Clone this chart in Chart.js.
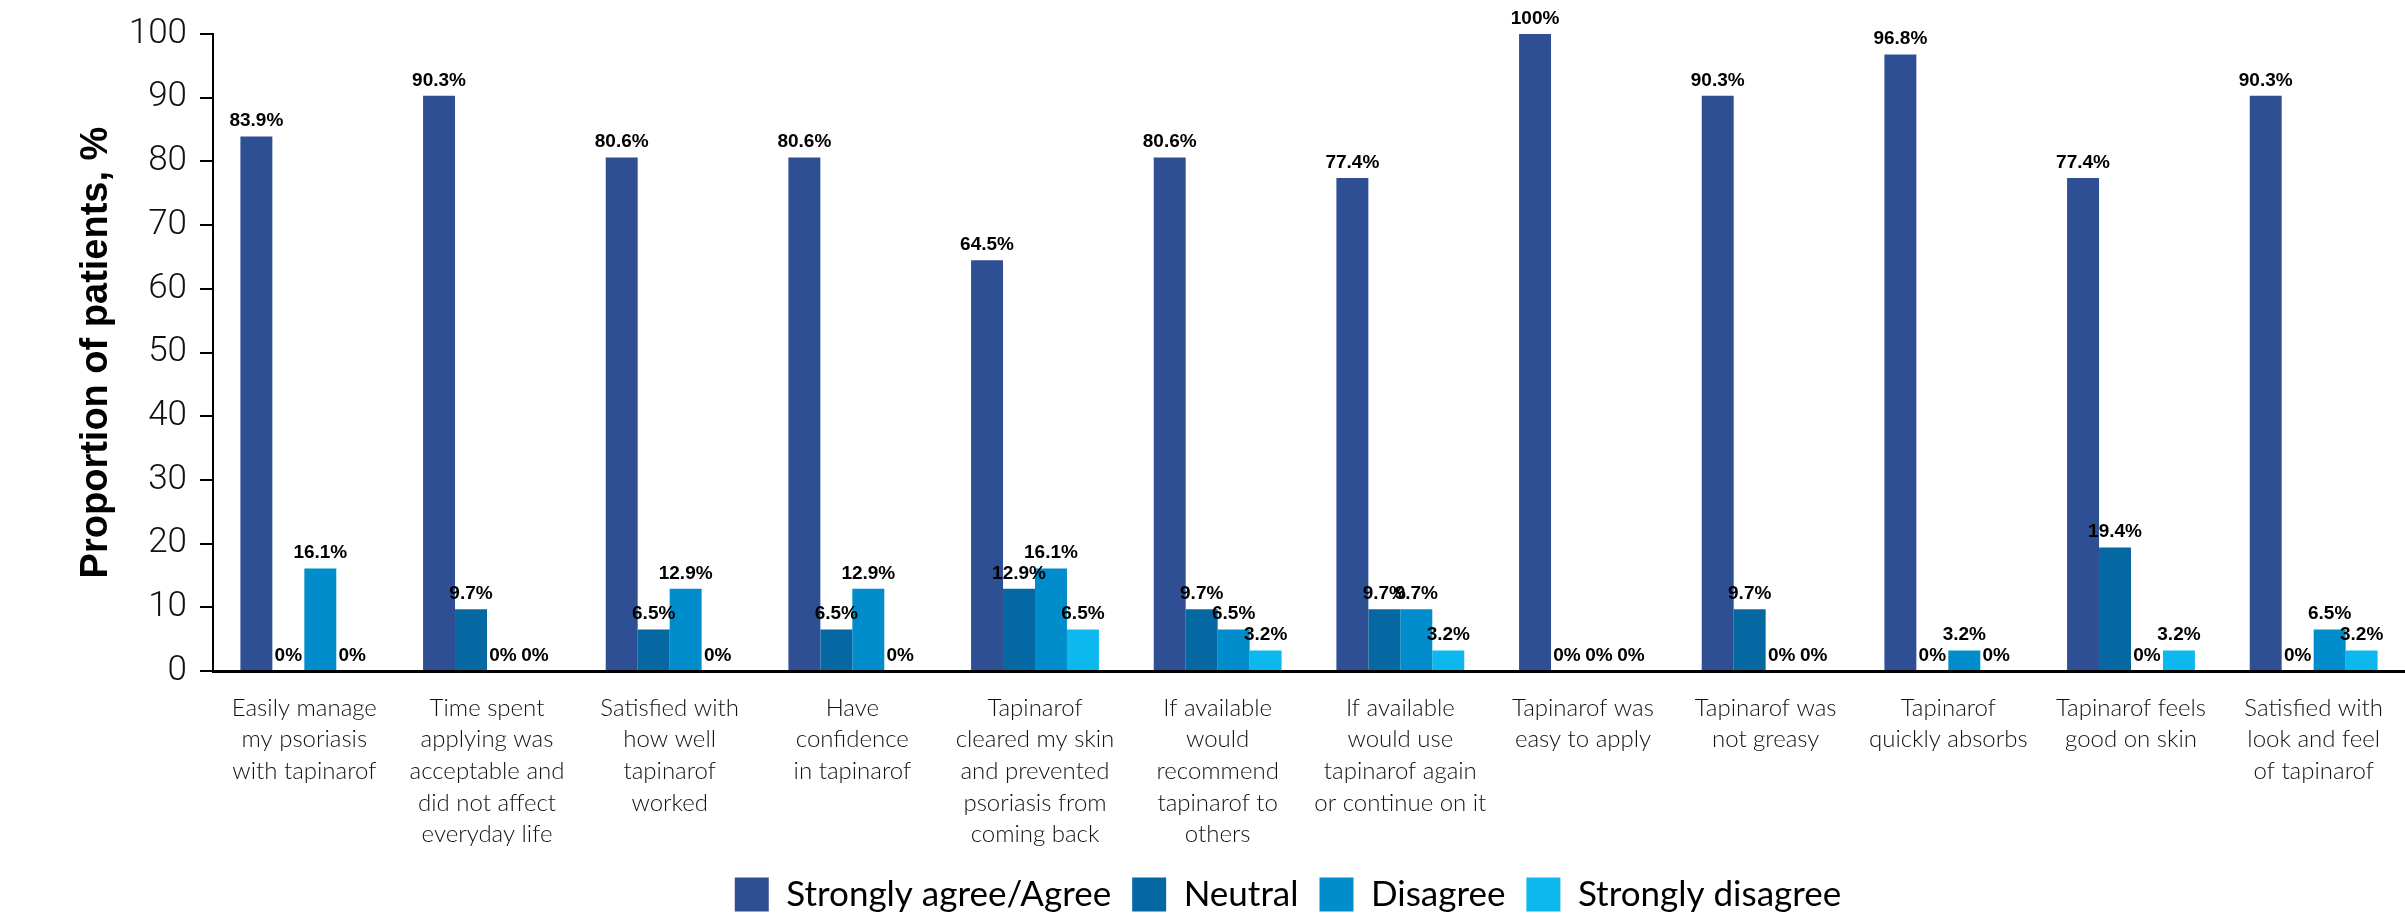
<!DOCTYPE html>
<html lang="en">
<head>
    <meta charset="UTF-8">
    <title>Tapinarof patient satisfaction</title>
    <script src="https://cdn.jsdelivr.net/npm/chart.js"></script>
    <style>
        html, body { margin: 0; padding: 0; background: #fff; }
        #chartContainer { width: 2405px; height: 922px; }
    </style>
</head>
<body>
    <div id="chartContainer">
        <canvas id="myChart" width="2405" height="922"></canvas>
    </div>
    <script>
        // Statements (x categories), one array of lines per label
        const categories = [
            ['Easily manage', 'my psoriasis', 'with tapinarof'],
            ['Time spent', 'applying was', 'acceptable and', 'did not affect', 'everyday life'],
            ['Satisfied with', 'how well', 'tapinarof', 'worked'],
            ['Have', 'confidence', 'in tapinarof'],
            ['Tapinarof', 'cleared my skin', 'and prevented', 'psoriasis from', 'coming back'],
            ['If available', 'would', 'recommend', 'tapinarof to', 'others'],
            ['If available', 'would use', 'tapinarof again', 'or continue on it'],
            ['Tapinarof was', 'easy to apply'],
            ['Tapinarof was', 'not greasy'],
            ['Tapinarof', 'quickly absorbs'],
            ['Tapinarof feels', 'good on skin'],
            ['Satisfied with', 'look and feel', 'of tapinarof']
        ];

        // Proportion of patients, %
        const stronglyAgree    = [83.9, 90.3, 80.6, 80.6, 64.5, 80.6, 77.4, 100, 90.3, 96.8, 77.4, 90.3];
        const neutral          = [0, 9.7, 6.5, 6.5, 12.9, 9.7, 9.7, 0, 9.7, 0, 19.4, 0];
        const disagree         = [16.1, 0, 12.9, 12.9, 16.1, 6.5, 9.7, 0, 0, 3.2, 0, 6.5];
        const stronglyDisagree = [0, 0, 0, 0, 6.5, 3.2, 3.2, 0, 0, 0, 3.2, 3.2];

        const seriesNames = ['Strongly agree/Agree', 'Neutral', 'Disagree', 'Strongly disagree'];
        const seriesColors = ['#2E4F94', '#0568A3', '#018DCB', '#0DB8EE'];
        const yTicks = [0, 10, 20, 30, 40, 50, 60, 70, 80, 90, 100];

        // draws the "xx.x%" value above every bar
        const valueLabels = {
            id: 'valueLabels',
            afterDatasetsDraw(chart) {
                const ctx = chart.ctx;
                ctx.save();
                ctx.font = 'bold 19px "Liberation Sans", Arial, sans-serif';
                ctx.fillStyle = '#000';
                ctx.textAlign = 'center';
                ctx.textBaseline = 'bottom';
                chart.data.datasets.forEach((ds, di) => {
                    const meta = chart.getDatasetMeta(di);
                    meta.data.forEach((bar, i) => {
                        ctx.fillText(ds.data[i] + '%', bar.x, bar.y - 6);
                    });
                });
                ctx.restore();
            }
        };

        // legend sits a little left of the plot centre in the original
        const legendShift = {
            id: 'legendShift',
            afterLayout(chart) {
                chart.legend.left -= 21;
                chart.legend.right -= 21;
            }
        };

        const ctx = document.getElementById('myChart').getContext('2d');
        const myChart = new Chart(ctx, {
            type: 'bar',
            data: {
                labels: categories,
                datasets: [stronglyAgree, neutral, disagree, stronglyDisagree].map((values, i) => ({
                    label: seriesNames[i],
                    data: values,
                    backgroundColor: seriesColors[i],
                    borderWidth: 0,
                    categoryPercentage: 0.70,
                    barPercentage: 1.0
                }))
            },
            options: {
                responsive: false,
                animation: false,
                layout: { padding: { top: 27, left: 0, right: 0, bottom: 0 } },
                plugins: {
                    title: { display: false },
                    tooltip: { enabled: false },
                    legend: {
                        position: 'bottom',
                        fullSize: false,
                        labels: {
                            boxWidth: 34,
                            boxHeight: 34,
                            padding: 21,
                            color: '#000',
                            font: { family: 'Lato, "Liberation Sans", Arial, sans-serif', size: 35 }
                        }
                    }
                },
                scales: {
                    x: {
                        grid: { display: false, drawTicks: false },
                        border: { display: true, color: '#000', width: 3 },
                        ticks: {
                            color: '#111',
                            padding: 21,
                            maxRotation: 0,
                            autoSkip: false,
                            font: { family: 'Lato, "Liberation Sans", Arial, sans-serif', size: 24, weight: 300, lineHeight: 1.32 }
                        },
                        afterFit(scale) { scale.height = 185; }
                    },
                    y: {
                        min: 0,
                        max: 100,
                        afterBuildTicks(scale) { scale.ticks = yTicks.map(v => ({ value: v })); },
                        grid: { display: true, drawOnChartArea: false, drawTicks: true, tickLength: 13, color: '#000', lineWidth: 2 },
                        border: { display: true, color: '#000', width: 2 },
                        ticks: {
                            color: '#111',
                            padding: 13,
                            font: { family: 'Roboto, "Liberation Sans", Arial, sans-serif', size: 35, weight: 300 }
                        },
                        title: {
                            display: true,
                            text: 'Proportion of patients, %',
                            color: '#000',
                            padding: { top: 74, bottom: 0 },
                            font: { family: '"Liberation Sans", Arial, sans-serif', size: 38, weight: 'bold' }
                        },
                        afterFit(scale) { scale.width = 213; }
                    }
                }
            },
            plugins: [valueLabels, legendShift]
        });
    </script>
</body>
</html>
